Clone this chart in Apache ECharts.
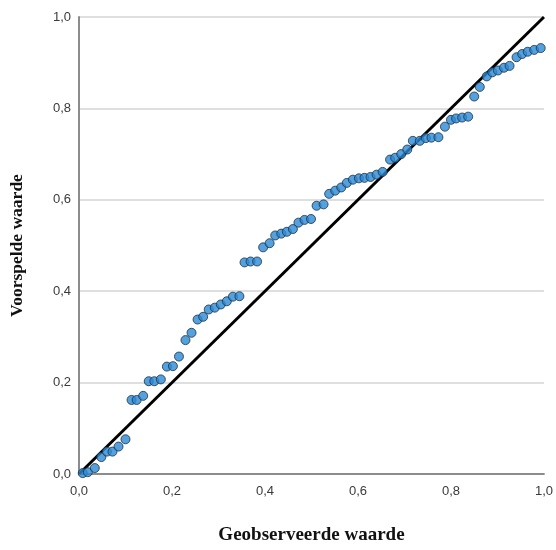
<!DOCTYPE html>
<html>
<head>
<meta charset="utf-8">
<script src="https://cdn.jsdelivr.net/npm/echarts@6/dist/echarts.min.js"></script>
<style>html,body{margin:0;padding:0;background:#fff}#c{width:556px;height:550px}</style>
</head>
<body>
<div id="c"></div>
<script>
const observed = [0.008,0.019,0.034,0.048,0.060,0.072,0.085,0.100,0.113,0.124,0.138,0.150,0.162,0.176,0.189,0.202,0.215,
0.229,0.242,0.255,0.267,0.279,0.292,0.305,0.318,0.331,0.345,0.356,0.369,0.383,0.396,0.410,0.422,0.435,0.447,0.460,0.472,0.485,0.499,0.511,0.526,
0.538,0.551,0.564,0.576,0.589,0.602,0.614,0.627,0.640,0.653,0.669,0.680,0.693,0.706,0.718,0.733,0.746,0.758,0.773,0.787,0.800,0.811,0.824,0.837,
0.850,0.862,0.877,0.889,0.901,0.914,0.926,0.941,0.953,0.965,0.979,0.993];
const predicted = [0.002,0.004,0.013,0.037,0.049,0.049,0.060,0.076,0.162,0.162,0.171,0.203,0.203,0.207,0.235,0.236,0.257,
0.293,0.309,0.338,0.344,0.360,0.364,0.371,0.378,0.388,0.389,0.463,0.465,0.465,0.496,0.505,0.522,0.526,0.530,0.536,0.550,0.556,0.558,0.587,0.590,
0.613,0.620,0.627,0.637,0.644,0.647,0.648,0.650,0.655,0.661,0.688,0.692,0.700,0.710,0.729,0.729,0.735,0.736,0.737,0.760,0.775,0.778,0.780,0.782,
0.826,0.847,0.870,0.879,0.883,0.889,0.893,0.912,0.919,0.924,0.928,0.932];
const refLine = [[0,0],[1,1]];
const xTitle = 'Geobserveerde waarde';
const yTitle = 'Voorspelde waarde';

const fmt = v => v.toFixed(1).replace('.', ',');
const points = observed.map((x,i) => [x, predicted[i]]);
const chart = echarts.init(document.getElementById('c'), null, {renderer:'canvas'});
const labelStyle = {formatter:fmt, color:'#3a3a3a', fontFamily:'Liberation Sans, Arial, sans-serif', fontSize:13};
const axisCommon = {
  type:'value', min:0, max:1, interval:0.2,
  axisLine:{show:true, lineStyle:{color:'#8c8c8c', width:2}},
  axisTick:{show:false},
  nameLocation:'middle'
};
chart.setOption({
  animation:false,
  grid:{left:72, right:12, top:17, bottom:63, containLabel:false},
  xAxis: Object.assign({}, axisCommon, {
    name:xTitle, nameGap:52,
    nameTextStyle:{fontFamily:'Liberation Serif, Times New Roman, serif', fontWeight:'bold', fontSize:19, color:'#111'},
    splitLine:{show:false},
    axisLabel:Object.assign({}, labelStyle, {margin:11})
  }),
  yAxis: Object.assign({}, axisCommon, {
    name:yTitle, nameGap:53, nameRotate:90,
    nameTextStyle:{fontFamily:'Liberation Serif, Times New Roman, serif', fontWeight:'bold', fontSize:17.5, color:'#111'},
    splitLine:{show:true, lineStyle:{color:'#d4d4d4', width:1.5}},
    axisLabel:Object.assign({}, labelStyle, {margin:8})
  }),
  series:[
    {type:'line', data:refLine, symbol:'none', lineStyle:{color:'#000', width:3}, z:2, silent:true},
    {type:'scatter', data:points, symbol:'circle', symbolSize:9,
     itemStyle:{color:'#2a8ad6', borderColor:'#1b2f45', borderWidth:1}, z:3}
  ]
});
</script>
</body>
</html>
